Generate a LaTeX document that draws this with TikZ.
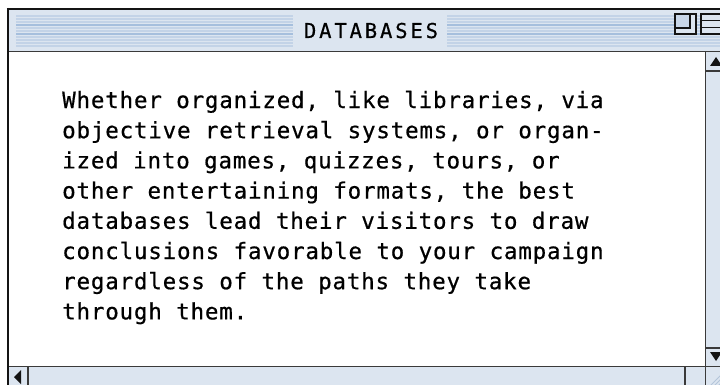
\documentclass[tikz,border=0pt]{standalone}
\usepackage{fontspec}
\newfontfamily\bodyfont[LetterSpace=3.6,FakeBold=0.6]{DejaVu Sans Mono}
\newfontfamily\titlefont[LetterSpace=14,FakeBold=0.6]{DejaVu Sans Mono}

\definecolor{barfill}{HTML}{DCE5F0}
\definecolor{stripeA}{HTML}{C3D3E7}
\definecolor{stripeB}{HTML}{A6BFDD}
\definecolor{zoomfill}{HTML}{C9D7E9}
\definecolor{frame}{HTML}{141414}
\definecolor{edge}{HTML}{3A3A3A}
\definecolor{hatch}{HTML}{B4C5DA}

\tikzset{
  framebox/.style={draw=frame, line width=1.3pt},
  arrowtip/.style={fill=frame, draw=none},
  bodytext/.style={anchor=base west, align=left, inner sep=0pt,
    font=\bodyfont\fontsize{22.5}{30.2}\selectfont},
  titletext/.style={anchor=base, inner sep=0pt,
    font=\titlefont\fontsize{20.5}{24}\selectfont}
}

\begin{document}
\begin{tikzpicture}[x=1pt,y=-1pt]
\useasboundingbox (0,0) rectangle (720,385);
\clip (0,0) rectangle (720,385);
\fill[white] (0,0) rectangle (720,385);

% title bar with pinstripes
\fill[barfill] (9,10) rectangle (724,51);
\foreach \y/\c in {15/stripeA,18/stripeA,21/stripeA,24/stripeB,27/stripeA,30/stripeA,
                   33/stripeB,36/stripeA,39/stripeA,42/stripeA,45/stripeA}{
  \fill[\c] (16,\y) rectangle (293,\y+1.6);
  \fill[\c] (447,\y) rectangle (724,\y+1.6);
}
\node[titletext] (title) at (371,38) {DATABASES};

% zoom box and collapse box
\draw[framebox, fill=barfill] (675,14) rectangle (696,34);
\draw[framebox, fill=zoomfill] (675,14) rectangle (690,28);
\draw[framebox, fill=barfill] (701,14) rectangle (726,34);
\draw[framebox] (701,20.7) -- (726,20.7);
\draw[framebox] (701,27.3) -- (726,27.3);

% vertical scroll bar
\fill[barfill] (706,52) rectangle (724,366);
\draw[edge, line width=1.2pt] (705.5,52) -- (705.5,385);
\draw[edge, line width=1.2pt] (706,71) -- (724,71);
\draw[edge, line width=1.2pt] (706,348) -- (724,348);
\fill[arrowtip] (710,66) -- (716,57) -- (722,66) -- cycle;
\fill[arrowtip] (710,352) -- (716,361) -- (722,352) -- cycle;

% horizontal scroll bar
\fill[barfill] (9,367) rectangle (705,390);
\fill[barfill] (706,367) rectangle (724,390);
\draw[edge, line width=1.2pt] (28,367) -- (28,390);
\draw[edge, line width=1.2pt] (685,367) -- (685,390);
\fill[arrowtip] (14,377) -- (21,370) -- (21,384) -- cycle;

% size box hatching
\begin{scope}
  \clip (706.5,367.5) rectangle (724,390);
  \foreach \k in {0,4,...,32}{
    \draw[hatch, line width=0.8pt] (704+\k,392) -- (724+\k,372);
  }
\end{scope}

% separators around the content area
\draw[edge, line width=1.6pt] (9,51.5) -- (724,51.5);
\draw[edge, line width=1.6pt] (9,366.3) -- (724,366.3);

% outer window frame
\draw[frame, line width=2.4pt] (6.8,9) -- (724,9);
\draw[frame, line width=2.4pt] (8,7.8) -- (8,390);

% body text (anchored on the baseline of its last line)
\node[bodytext] (body) at (62,319.4) {Whether organized, like libraries, via\\
objective retrieval systems, or organ-\\
ized into games, quizzes, tours, or\\
other entertaining formats, the best\\
databases lead their visitors to draw\\
conclusions favorable to your campaign\\
regardless of the paths they take\\
through them.};
\end{tikzpicture}
\end{document}
